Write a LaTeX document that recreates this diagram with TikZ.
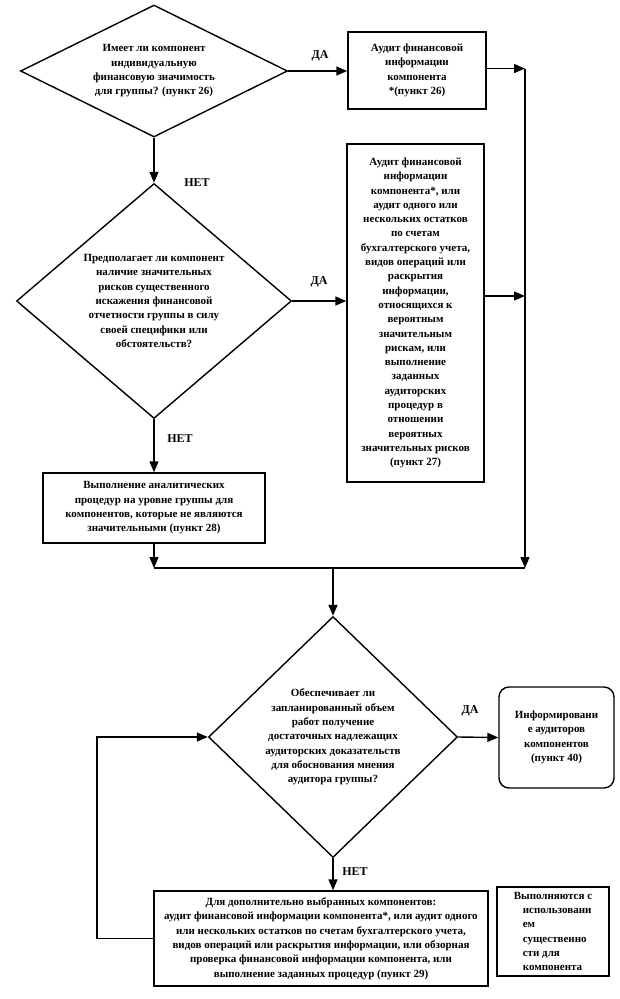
\documentclass[tikz,border=0pt]{standalone}
\usepackage{fontspec}
\setmainfont{Liberation Serif}
\usetikzlibrary{shapes.geometric,arrows.meta}
\newcommand\dtxt{\bfseries\fontsize{11}{14.3}\selectfont}
\begin{document}
\begin{tikzpicture}[x=1pt,y=-1pt,
  box/.style={draw,line width=1.4pt,inner sep=0pt,align=center,font=\dtxt},
  dia/.style={draw,diamond,line width=1.4pt,inner sep=0pt,align=center,font=\dtxt},
  arr/.style={-{Triangle[length=11pt,width=9pt]},line width=1.4pt},
  ln/.style={line width=1.4pt},
  lbl/.style={font=\bfseries\fontsize{12}{14}\selectfont,inner sep=0pt}]
\fill[white] (0,0) rectangle (619,999);
\useasboundingbox (0,0) rectangle (619,999);
% decisions
\node[dia,minimum width=267pt,minimum height=132pt,aspect=2.02] (d1) at (154,71)
 {Имеет ли компонент\\индивидуальную\\финансовую значимость\\для группы? (пункт 26)};
\node[dia,minimum width=275pt,minimum height=235pt,aspect=1.17] (d2) at (154,301)
 {Предполагает ли компонент\\наличие значительных\\рисков существенного\\искажения финансовой\\отчетности группы в силу\\своей специфики или\\обстоятельств?};
\node[dia,minimum width=249pt,minimum height=241pt,aspect=1.03] (d3) at (333,737)
 {Обеспечивает ли\\запланированный объем\\работ получение\\достаточных надлежащих\\аудиторских доказательств\\для обоснования мнения\\аудитора группы?};
% boxes
\node[box,minimum width=138pt,minimum height=77pt] (b1) at (417,70.5)
 {Аудит финансовой\\информации\\компонента\\*(пункт 26)};
\node[box,minimum width=137pt,minimum height=338pt] (b2) at (415.5,313)
 {Аудит финансовой\\информации\\компонента*, или\\аудит одного или\\нескольких остатков\\по счетам\\бухгалтерского учета,\\видов операций или\\раскрытия\\информации,\\относящихся к\\вероятным\\значительным\\рискам, или\\выполнение\\заданных\\аудиторских\\процедур в\\отношении\\вероятных\\значительных рисков\\(пункт 27)};
\node[box,minimum width=222pt,minimum height=70pt] (b3) at (154,508)
 {Выполнение аналитических\\процедур на уровне группы для\\компонентов, которые не являются\\значительными (пункт 28)};
\node[box,rounded corners=10pt,minimum width=115pt,minimum height=101pt] (b6) at (556.5,737.5)
 {Информировани\\е аудиторов\\компонентов\\(пункт 40)};
\node[box,minimum width=334pt,minimum height=95pt] (b4) at (321,938.5)
 {Для дополнительно выбранных компонентов:\\аудит финансовой информации компонента*, или аудит одного\\или нескольких остатков по счетам бухгалтерского учета,\\видов операций или раскрытия информации, или обзорная\\проверка финансовой информации компонента, или\\выполнение заданных процедур (пункт 29)};
\node[box,align=left,minimum width=112pt,minimum height=89pt] (b5) at (553,931.5)
 {Выполняются с\\\hspace*{9pt}использовани\\\hspace*{9pt}ем\\\hspace*{9pt}существенно\\\hspace*{9pt}сти для\\\hspace*{9pt}компонента};
% labels
\node[lbl] (l1) at (320,56) {ДА};
\node[lbl] (l2) at (197,183) {НЕТ};
\node[lbl] (l3) at (319,282) {ДА};
\node[lbl] (l4) at (180,439) {НЕТ};
\node[lbl] (l5) at (470,711) {ДА};
\node[lbl] (l6) at (355,872) {НЕТ};
% helper coordinates
\coordinate (rx) at (525,0);
\coordinate (lx) at (97,0);
\coordinate (jL) at (154,568);
\coordinate (jR) at (525,568);
\coordinate (jM) at (333,568);
% connectors
\draw[arr] (d1.south) -- (d2.north);
\draw[arr] (d1.east) -- (d1.east -| b1.west);
\draw[arr] ([yshift=2pt]b1.east) -- ([yshift=2pt]b1.east -| rx);
\draw[arr] ([yshift=2pt]b1.east -| rx) -- (jR);
\draw[arr] (d2.east) -- (d2.east -| b2.west);
\draw[arr] ([yshift=17pt]b2.east) -- ([yshift=17pt]b2.east -| rx);
\draw[arr] (d2.south) -- (b3.north);
\draw[arr] (b3.south) -- (jL);
\draw[ln] (jL) -- (jR);
\draw[arr] (jM) -- (d3.north);
\draw[arr] (d3.east) -- (b6.west);
\draw[arr] (d3.south) -- (d3.south |- b4.north);
\draw[arr] (b4.west) -- (lx |- b4.west) |- (d3.west);
\end{tikzpicture}
\end{document}
